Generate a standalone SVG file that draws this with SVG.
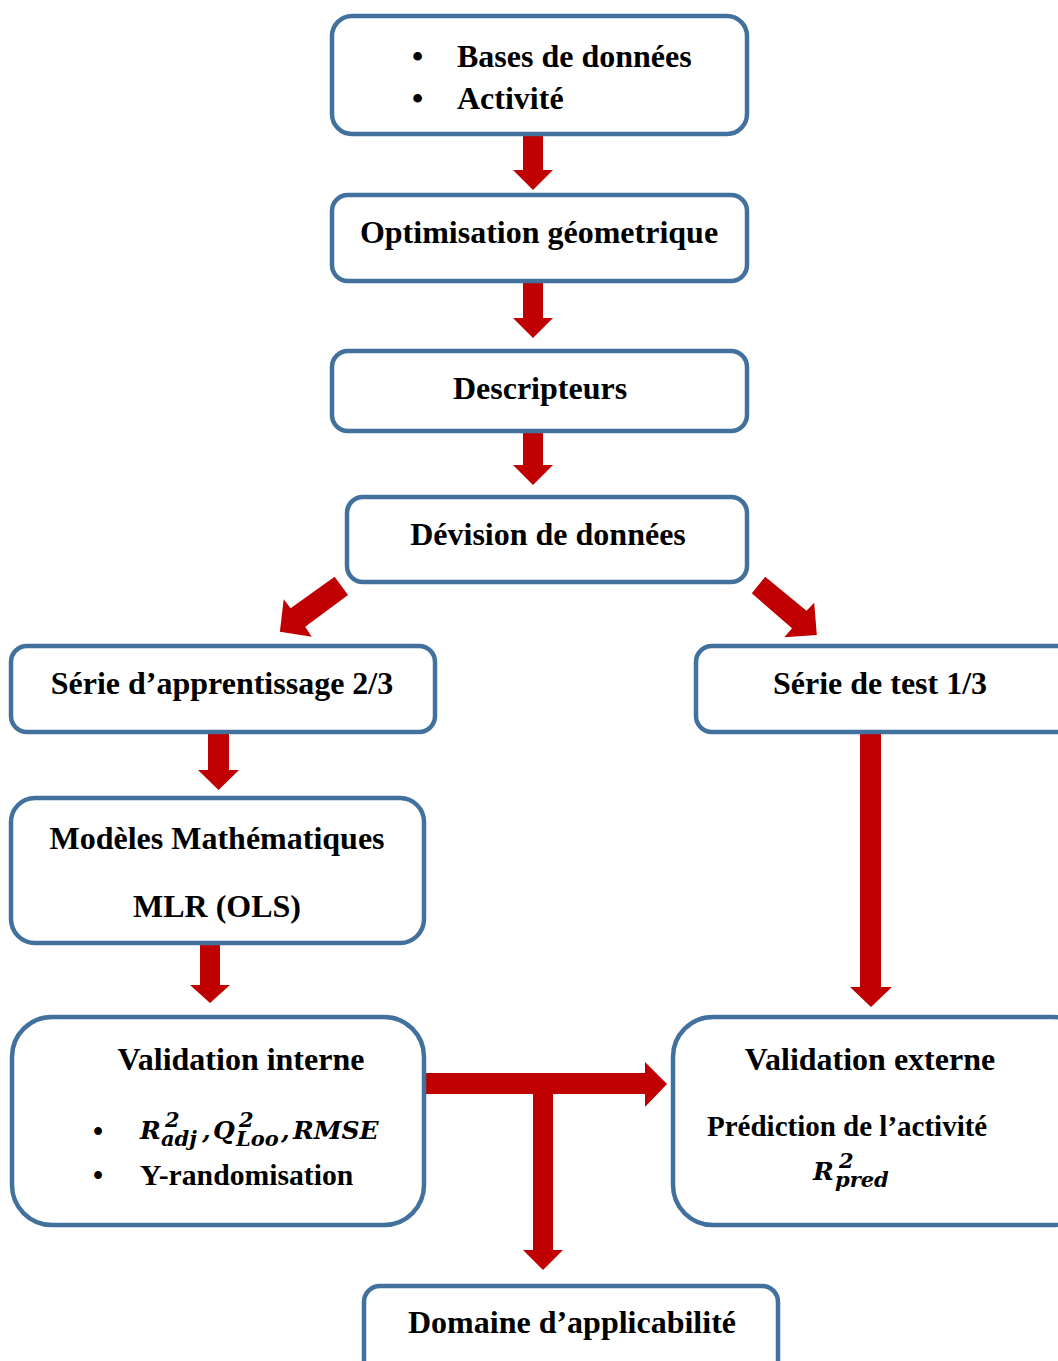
<svg xmlns="http://www.w3.org/2000/svg" width="1058" height="1361" viewBox="0 0 1058 1361">
<style>
.box{fill:#fff;stroke:#41719C;stroke-width:4.5}
.arr{fill:#C00000}
.t{font-family:"Liberation Serif","Times New Roman",serif;font-weight:bold;font-size:32px;fill:#000}
.c{text-anchor:middle}
.m{font-family:"DejaVu Serif","Liberation Serif",serif;font-weight:bold;font-style:italic;fill:#000;font-size:25px}
.s{font-size:21px}
</style>
<rect x="0" y="0" width="1058" height="1361" fill="#fff"/>
<g id="connectors">
<polygon class="arr" points="523,134 543,134 543,170 553,170 533,190 513,170 523,170"/>
<polygon class="arr" points="523,283 543,283 543,318 553,318 533,338 513,318 523,318"/>
<polygon class="arr" points="523,431 543,431 543,465 553,465 533,485 513,465 523,465"/>
<polygon class="arr" points="334.6,576.7 348,595 305.2,626.7 311.7,636.7 279.9,631.7 283.7,599.3 290.6,608.3"/>
<polygon class="arr" points="765.2,576.7 806.5,610.7 814.2,602.7 816.8,635 784.3,637.3 792,628.3 751.8,593.3"/>
<polygon class="arr" points="208,733 229,733 229,770 239,770 218.5,790 198,770 208,770"/>
<polygon class="arr" points="200,944 220,944 220,985 230,985 210,1003 190,985 200,985"/>
<polygon class="arr" points="860,733 881,733 881,987 892,987 871,1007 850,987 860,987"/>
<polygon class="arr" points="425,1073 645,1073 645,1062 667,1084 645,1107 645,1094 553,1094 553,1250 563,1250 543,1270 523,1250 533,1250 533,1094 425,1094"/>
</g>
<g id="node-bases">
<rect class="box" x="332" y="16" width="415" height="118" rx="20"/>
<text class="t" x="412" y="67">•</text>
<text class="t" x="457" y="67">Bases de données</text>
<text class="t" x="412" y="109">•</text>
<text class="t" x="457" y="109">Activité</text>
</g>
<g id="node-optim">
<rect class="box" x="332" y="195" width="415" height="86" rx="16"/>
<text class="t c" x="539" y="243">Optimisation géometrique</text>
</g>
<g id="node-descr">
<rect class="box" x="332" y="351" width="415" height="80" rx="16"/>
<text class="t c" x="540" y="399">Descripteurs</text>
</g>
<g id="node-division">
<rect class="box" x="347" y="497" width="400" height="85" rx="16"/>
<text class="t c" x="548" y="545">Dévision de données</text>
</g>
<g id="node-apprentissage">
<rect class="box" x="11" y="646" width="424" height="86" rx="16"/>
<text class="t c" x="222" y="694">Série d’apprentissage 2/3</text>
</g>
<g id="node-test">
<rect class="box" x="696" y="646" width="390" height="86" rx="16"/>
<text class="t c" x="880" y="694">Série de test 1/3</text>
</g>
<g id="node-modeles">
<rect class="box" x="11" y="798" width="413" height="145" rx="24"/>
<text class="t c" x="217" y="849">Modèles Mathématiques</text>
<text class="t c" x="217" y="917">MLR (OLS)</text>
</g>
<g id="node-interne">
<rect class="box" x="12" y="1017" width="412" height="208" rx="40"/>
<text class="t c" x="241" y="1070">Validation interne</text>
<text class="t" x="93" y="1141" style="font-size:29px">•</text>
<text class="m"><tspan x="140" y="1139">R</tspan><tspan class="s" x="165" y="1127">2</tspan><tspan class="s" x="161" y="1146">adj</tspan><tspan x="202" y="1139">,</tspan><tspan x="213" y="1139">Q</tspan><tspan class="s" x="239" y="1127">2</tspan><tspan class="s" x="236" y="1146">Loo</tspan><tspan x="281" y="1139">,</tspan><tspan x="293" y="1139">RMSE</tspan></text>
<text class="t" x="93" y="1185" style="font-size:29px">•</text>
<text class="t" x="140" y="1185" style="font-size:29.7px">Y-randomisation</text>
</g>
<g id="node-externe">
<rect class="box" x="673" y="1017" width="420" height="208" rx="40"/>
<text class="t c" x="870" y="1070">Validation externe</text>
<text class="t" x="707" y="1136" style="font-size:29px">Prédiction de l’activité</text>
<text class="m"><tspan x="813" y="1180">R</tspan><tspan class="s" x="839" y="1168">2</tspan><tspan class="s" x="835" y="1187">pred</tspan></text>
</g>
<g id="node-domaine">
<rect class="box" x="364" y="1286" width="414" height="95" rx="16"/>
<text class="t c" x="572" y="1333">Domaine d’applicabilité</text>
</g>
</svg>
